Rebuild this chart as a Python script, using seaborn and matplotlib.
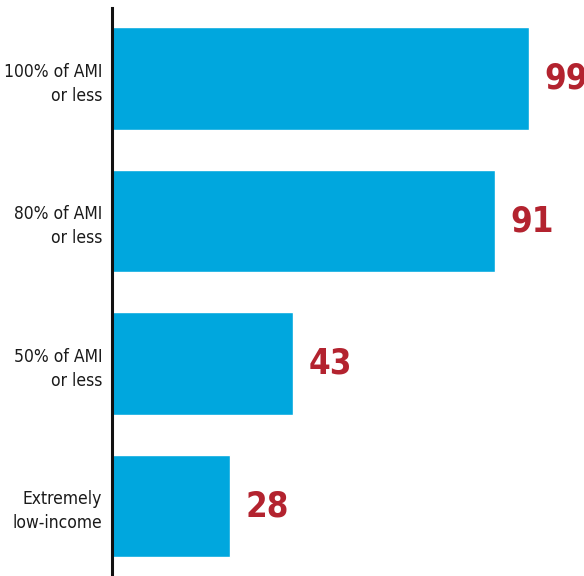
import matplotlib
matplotlib.use("Agg")
import matplotlib.pyplot as plt
import seaborn as sns
import pandas as pd

categories = ["100% of AMI\nor less", "80% of AMI\nor less", "50% of AMI\nor less", "Extremely\nlow-income"]
values = [99, 91, 43, 28]

bar_color = "#00A7DE"
label_color = "#B3232F"

sns.set_theme(style="white")
plt.rcParams["font.family"] = ["DejaVu Sans"]
plt.rcParams["font.stretch"] = "condensed"

df = pd.DataFrame({"group": categories, "count": values})

fig = plt.figure(figsize=(5.84, 5.76), dpi=100)
ax = fig.add_axes([112 / 584, 0.0, 1 - 112 / 584, 1 - 8 / 576])

sns.barplot(data=df, x="count", y="group", orient="h", color=bar_color,
            saturation=1, width=0.72, ax=ax)

ax.set_xlim(0, 112.1)
ax.set_ylim(3.49, -0.495)

for i, v in enumerate(values):
    ax.annotate(str(v), xy=(v, i), xytext=(11, 0), textcoords="offset points",
                ha="left", va="center", color=label_color, fontsize=25,
                fontweight="bold", fontstretch="condensed", annotation_clip=False)

ax.set_xlabel("")
ax.set_ylabel("")
ax.set_xticks([])
ax.tick_params(axis="y", length=0, pad=7)
for lbl in ax.get_yticklabels():
    lbl.set_fontsize(12.5)
    lbl.set_fontstretch("condensed")
    lbl.set_linespacing(1.45)
    lbl.set_color("#1a1a1a")
    lbl.set_horizontalalignment("right")
    lbl.set_multialignment("right")

for side in ["top", "right", "bottom"]:
    ax.spines[side].set_visible(False)
ax.spines["left"].set_color("#111111")
ax.spines["left"].set_linewidth(2.2)

fig.savefig("out.png", dpi=100)
